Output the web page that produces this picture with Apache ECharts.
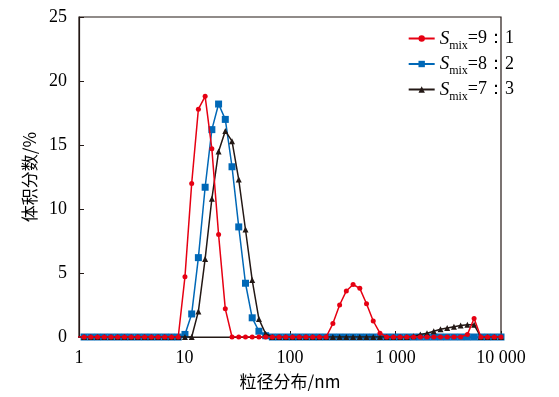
<!DOCTYPE html>
<html>
<head>
<meta charset="utf-8">
<script src="https://cdn.jsdelivr.net/npm/echarts@6/dist/echarts.min.js"></script>
<style>
  html, body { margin: 0; padding: 0; background: #fff; }
  #main { width: 559px; height: 397px; }
</style>
</head>
<body>
<div id="main"></div>
<script type="text/javascript">
// 粒径 (nm), Zetasizer 分级
var sizes = [
  0.9649, 1.117, 1.294, 1.499, 1.736, 2.01, 2.328, 2.696,
  3.122, 3.615, 4.187, 4.849, 5.615, 6.503, 7.531, 8.721,
  10.1, 11.7, 13.54, 15.69, 18.17, 21.04, 24.36, 28.21,
  32.67, 37.84, 43.82, 50.75, 58.77, 68.06, 78.82, 91.28,
  105.7, 122.4, 141.8, 164.2, 190.1, 220.2, 255.0, 295.3,
  342.0, 396.1, 458.7, 531.2, 615.1, 712.4, 825.0, 955.4,
  1106, 1281, 1484, 1718, 1990, 2305, 2669, 3091,
  3580, 4145, 4801, 5560, 6439, 7456, 8635, 10000
];
var names = ['9：1', '8：2', '7：3'];
var s91 = [
  0, 0, 0, 0, 0, 0, 0, 0,
  0, 0, 0, 0, 0, 0, 0, 0,
  4.7, 12.0, 17.8, 18.8, 14.7, 8.0, 2.2, 0,
  0, 0, 0, 0, 0, 0, 0, 0,
  0, 0, 0, 0, 0, 0, 1.05, 2.5,
  3.6, 4.1, 3.8, 2.6, 1.25, 0.3, 0, 0,
  0, 0, 0, 0, 0, 0, 0, 0,
  0, 0, 0.2, 1.45, 0, 0, 0, 0
];
var s82 = [
  0, 0, 0, 0, 0, 0, 0, 0,
  0, 0, 0, 0, 0, 0, 0, 0,
  0.2, 1.8, 6.2, 11.7, 16.2, 18.2, 17.0, 13.3,
  8.6, 4.2, 1.5, 0.45, 0.1, 0, 0, 0,
  0, 0, 0, 0, 0, 0, 0, 0,
  0, 0, 0, 0, 0, 0, 0, 0,
  0, 0, 0, 0, 0, 0, 0, 0,
  0, 0, 0, 0, 0, 0, 0, 0
];
var s73 = [
  0, 0, 0, 0, 0, 0, 0, 0,
  0, 0, 0, 0, 0, 0, 0, 0,
  0, 0, 2.0, 6.1, 10.8, 14.5, 16.1, 15.3,
  12.3, 8.4, 4.45, 1.4, 0.25, 0, 0, 0,
  0, 0, 0, 0, 0, 0, 0, 0,
  0, 0, 0, 0, 0, 0, 0, 0,
  0, 0, 0.05, 0.2, 0.3, 0.45, 0.6, 0.7,
  0.8, 0.9, 0.95, 0.95, 0, 0, 0, 0
];
var yTicks = [0, 5, 10, 15, 20, 25];

function pairs(vals) {
  return sizes.map(function (x, i) { return [x, vals[i]]; });
}

var chart = echarts.init(document.getElementById('main'));
var serif = 'Liberation Serif, Times New Roman, serif';
var axisColor = '#231815';

var option = {
  animation: false,
  grid: {
    left: 79, right: 58, top: 17, bottom: 60,
    show: true, borderColor: axisColor, borderWidth: 1.2
  },
  legend: {
    right: 40, top: 24,
    orient: 'vertical',
    itemWidth: 26, itemHeight: 8, itemGap: 3,
    data: names,
    formatter: function (n) { return '{s|S}{sub|mix}{t|=' + n + '}'; },
    textStyle: {
      rich: {
        s: { fontFamily: serif, fontStyle: 'italic', fontSize: 19, color: '#000', verticalAlign: 'middle' },
        sub: { fontFamily: serif, fontSize: 12, color: '#000', padding: [14, 0, 0, 0] },
        t: { fontFamily: serif, fontSize: 18, color: '#000', verticalAlign: 'middle' }
      }
    }
  },
  xAxis: {
    type: 'log', logBase: 10, min: 1, max: 10000,
    name: '粒径分布/nm', nameLocation: 'middle', nameGap: 36,
    nameTextStyle: { fontFamily: 'Noto Sans CJK SC', fontSize: 17, color: '#000' },
    axisLine: { lineStyle: { color: axisColor, width: 1.2 } },
    axisTick: { inside: true, length: 6, lineStyle: { color: axisColor } },
    minorTick: { show: false },
    splitLine: { show: false },
    axisLabel: {
      margin: 12, fontFamily: serif, fontSize: 18, color: '#000',
      formatter: function (v) { return String(Math.round(v)).replace(/\B(?=(\d{3})+(?!\d))/g, ' '); }
    }
  },
  yAxis: {
    type: 'value', min: 0, max: 25, interval: 5,
    name: '体积分数/%', nameLocation: 'middle', nameGap: 40, nameRotate: 90,
    nameTextStyle: { fontFamily: 'Noto Sans CJK SC', fontSize: 17, color: '#000' },
    axisLine: { show: true, lineStyle: { color: axisColor, width: 1.2 } },
    axisTick: { show: true, inside: true, length: 5, lineStyle: { color: axisColor } },
    splitLine: { show: false },
    axisLabel: {
      margin: 12, fontFamily: serif, fontSize: 18, color: '#000',
      formatter: function (v) { return yTicks.indexOf(v) >= 0 ? String(v) : ''; }
    }
  },
  series: [
    {
      name: names[0], type: 'line', z: 4,
      data: pairs(s91),
      symbol: 'circle', symbolSize: 5,
      itemStyle: { color: '#e60012' },
      lineStyle: { color: '#e60012', width: 1.5 }
    },
    {
      name: names[1], type: 'line', z: 2,
      data: pairs(s82),
      symbol: 'rect', symbolSize: 7,
      itemStyle: { color: '#0068b7' },
      lineStyle: { color: '#0068b7', width: 1.5 }
    },
    {
      name: names[2], type: 'line', z: 3,
      data: pairs(s73),
      symbol: 'triangle', symbolSize: 6,
      itemStyle: { color: '#231815' },
      lineStyle: { color: '#231815', width: 1.5 }
    }
  ]
};

chart.setOption(option);
</script>
</body>
</html>
